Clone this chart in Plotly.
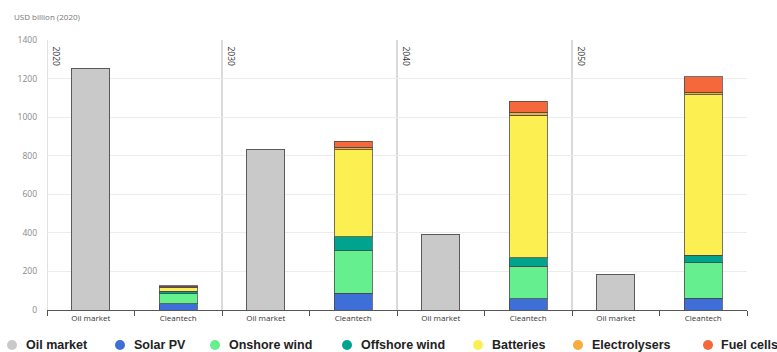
import plotly.graph_objects as go

# Investment by year: oil market vs. clean technologies (USD billion, 2020)
years = ["2020", "2030", "2040", "2050"]
categories = ["Oil market", "Cleantech"]

oil_market = [1250, 830, 390, 185]
solar_pv = [33, 87, 58, 60]
onshore_wind = [52, 219, 169, 184]
offshore_wind = [12, 74, 45, 40]
batteries = [22, 451, 738, 833]
electrolysers = [2, 14, 16, 12]
fuel_cells = [4, 29, 57, 81]

y_ticks = [0, 200, 400, 600, 800, 1000, 1200, 1400]

series = [
    ("Oil market", oil_market, "#c9c9c9"),
    ("Solar PV", solar_pv, "#3e6fd6"),
    ("Onshore wind", onshore_wind, "#66ef8e"),
    ("Offshore wind", offshore_wind, "#00a38d"),
    ("Batteries", batteries, "#fcef52"),
    ("Electrolysers", electrolysers, "#f7ac3c"),
    ("Fuel cells", fuel_cells, "#f5683b"),
]

W, H = 777, 352
ML, MR, MT, MB = 47, 30, 40, 42
PW, PH = W - ML - MR, H - MT - MB

n_groups = len(years)
oil_x = [2 * i for i in range(n_groups)]
clean_x = [2 * i + 1 for i in range(n_groups)]

fig = go.Figure()
for name, vals, color in series:
    xs = oil_x if name == "Oil market" else clean_x
    line_col = "#5a5a5a" if name == "Oil market" else "rgba(70,70,70,0.75)"
    fig.add_trace(go.Bar(
        x=xs, y=vals, name=name, width=0.43,
        marker=dict(color=color, line=dict(color=line_col, width=1)),
        showlegend=False,
    ))

fig.update_layout(
    width=W, height=H, barmode="stack",
    margin=dict(l=ML, r=MR, t=MT, b=MB, autoexpand=False),
    plot_bgcolor="white", paper_bgcolor="white",
    font=dict(family="Open Sans, sans-serif", size=8, color="#333"),
)

tick_pos = list(range(2 * n_groups))
tick_txt = categories * n_groups
fig.update_xaxes(
    range=[-0.5, 2 * n_groups - 0.5],
    tickvals=tick_pos, ticktext=tick_txt, ticks="",
    tickfont=dict(size=8, color="#333"),
    showgrid=False, zeroline=False,
    showline=True, linecolor="#555", linewidth=1,
    minor=dict(tickvals=[p - 0.5 for p in range(2 * n_groups + 1)],
               ticks="outside", ticklen=5, tickcolor="#555", showgrid=False),
)
fig.update_yaxes(
    range=[0, 1400], tickvals=y_ticks,
    tickfont=dict(size=8.5, color="#888"),
    showgrid=True, gridcolor="#ececec", gridwidth=1,
    zeroline=False, showline=False, ticks="", ticklabelstandoff=9,
)

# group separators and year labels
for i, yr in enumerate(years):
    xb = 2 * i - 0.5
    fig.add_shape(type="line", xref="x", yref="y", x0=xb, x1=xb, y0=0, y1=1400,
                  line=dict(color="#c4c4c4" if i == 0 else "#b4b4b4", width=1),
                  layer="below")
    fig.add_annotation(x=xb, y=1400, xref="x", yref="y", text=yr, textangle=90,
                       showarrow=False, xanchor="left", yanchor="top",
                       xshift=2, yshift=-4, font=dict(size=8.5, color="#333"))


def px_x(p):
    return (p - ML) / PW


def px_y(p):
    return (H - MB - p) / PH


fig.add_annotation(x=px_x(12), y=px_y(17), xref="paper", yref="paper",
                   text="USD billion (2020)", showarrow=False,
                   xanchor="left", yanchor="middle",
                   font=dict(size=8, color="#777"))

# legend row drawn with circles and labels
dot_x = [12, 120, 215, 347, 478, 578, 708]
text_x = [24, 132, 227, 359, 490, 590, 719]
leg_y = 345
for (name, _, color), dx, tx in zip(series, dot_x, text_x):
    fig.add_shape(type="circle", xref="paper", yref="paper",
                  xsizemode="pixel", ysizemode="pixel",
                  xanchor=px_x(dx), yanchor=px_y(leg_y),
                  x0=-5, x1=5, y0=-5, y1=5,
                  fillcolor=color, line=dict(width=0))
    fig.add_annotation(x=px_x(tx), y=px_y(leg_y), xref="paper", yref="paper",
                       text=f"<b>{name}</b>", showarrow=False,
                       xanchor="left", yanchor="middle",
                       font=dict(family="Liberation Sans, Arial, sans-serif",
                                 size=12.5, color="#222"))

fig.write_html("out.html")
